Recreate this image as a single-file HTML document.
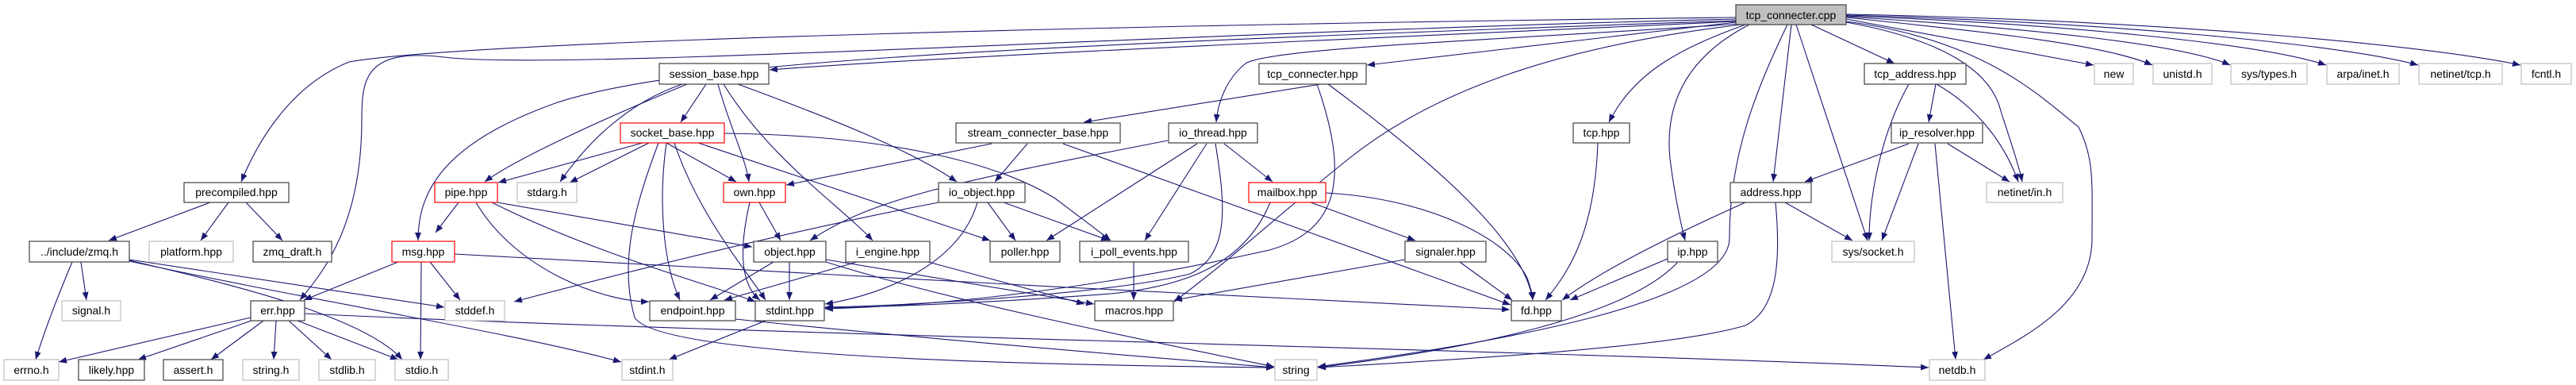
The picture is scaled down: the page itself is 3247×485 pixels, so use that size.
<!DOCTYPE html>
<html><head><meta charset="utf-8"><style>
html,body{margin:0;padding:0;background:#fff;}
svg{display:block;}
text{font-family:"Liberation Sans",sans-serif;font-size:14px;fill:#000;text-anchor:middle;}
.n rect{fill:#fff;stroke:#404040;stroke-width:1.2;}
.g rect{fill:#fff;stroke:#bfbfbf;stroke-width:1.2;}
.r rect{fill:#fff;stroke:#ff0000;stroke-width:1.2;}
.e{fill:none;stroke:#191970;stroke-width:1.1;marker-end:url(#a);}
</style></head><body>
<svg width="3247" height="485" viewBox="0 0 3247 485" xmlns="http://www.w3.org/2000/svg">
<defs><marker id="a" markerUnits="userSpaceOnUse" markerWidth="11" markerHeight="8" refX="10" refY="4" orient="auto"><path d="M0,0 L10,4 L0,8 z" fill="#191970"/></marker></defs>
<g>
<!-- from tcp_connecter.cpp -->
<path class="e" d="M2188,22 C1500,30 600,50 440,78 C360,110 320,190 304,229"/>
<path class="e" d="M2188,24 C1500,40 700,90 560,72 C460,60 456,100 456,150 C456,280 410,340 378,378"/>
<path class="e" d="M2188,27 C1800,45 1200,70 970,88"/>
<path class="e" d="M2188,26 C1200,60 850,80 700,130 C560,180 527,240 527,303"/>
<path class="e" d="M2188,28 L1723,82"/>
<path class="e" d="M2192,30 C1900,50 1600,60 1570,80 C1545,100 1535,130 1533,154"/>
<path class="e" d="M2195,31 C1950,60 1800,120 1700,200 C1600,280 1560,320 1480,380"/>
<path class="e" d="M2200,31 C2120,60 2060,90 2028,154"/>
<path class="e" d="M2205,31 C2110,80 2100,150 2105,200 C2110,240 2118,280 2124,303"/>
<path class="e" d="M2253,31 C2210,120 2180,200 2180,300 C2180,380 1900,430 1661,462"/>
<path class="e" d="M2258,31 L2235,229"/>
<path class="e" d="M2264,31 L2354,303"/>
<path class="e" d="M2283,31 L2388,80"/>
<path class="e" d="M2327,28 C2450,50 2510,90 2522,140 C2535,180 2545,210 2549,229"/>
<path class="e" d="M2327,27 C2500,50 2570,120 2620,160 C2640,200 2637,230 2637,300 C2637,380 2560,420 2500,453"/>
<path class="e" d="M2327,24 L2639,82"/>
<path class="e" d="M2327,22 C2500,40 2650,55 2713,82"/>
<path class="e" d="M2327,21 C2550,35 2750,55 2811,82"/>
<path class="e" d="M2327,20 C2600,30 2850,55 2932,82"/>
<path class="e" d="M2327,19 C2650,28 2950,55 3048,82"/>
<path class="e" d="M2327,18 C2700,25 3050,55 3177,82"/>
<!-- session_base -->
<path class="e" d="M890,106 L858,154"/>
<path class="e" d="M905,106 C920,160 940,200 944,229"/>
<path class="e" d="M912,106 C970,200 1060,260 1100,303"/>
<path class="e" d="M930,106 C1050,150 1150,190 1206,229"/>
<path class="e" d="M866,106 C760,150 650,200 611,229"/>
<path class="e" d="M860,106 C790,130 740,180 706,229"/>
<!-- socket_base -->
<path class="e" d="M810,180 L628,230"/>
<path class="e" d="M818,180 L718,230"/>
<path class="e" d="M840,180 L928,229"/>
<path class="e" d="M880,180 L1248,303"/>
<path class="e" d="M913,168 C1100,170 1250,200 1330,250 C1370,280 1390,295 1400,303"/>
<path class="e" d="M840,180 C830,250 835,330 857,378"/>
<path class="e" d="M850,180 C880,270 940,340 965,378"/>
<path class="e" d="M830,180 C800,260 780,330 800,400 C830,450 1300,460 1606,463"/>
<!-- pipe -->
<path class="e" d="M578,255 L549,293"/>
<path class="e" d="M627,255 L948,311"/>
<path class="e" d="M620,255 C750,320 900,360 952,380"/>
<path class="e" d="M600,255 C650,340 760,380 818,380"/>
<!-- msg -->
<path class="e" d="M502,330 L383,378"/>
<path class="e" d="M531,330 L530,453"/>
<path class="e" d="M542,330 L580,378"/>
<path class="e" d="M573,320 C900,340 1500,370 1903,390"/>
<!-- zmq.h -->
<path class="e" d="M91,330 C70,380 55,420 45,453"/>
<path class="e" d="M102,330 L109,378"/>
<path class="e" d="M163,327 L560,387"/>
<path class="e" d="M163,328 C300,360 460,400 507,453"/>
<path class="e" d="M163,329 C400,380 650,420 783,456"/>
<!-- precompiled -->
<path class="e" d="M265,255 L137,303"/>
<path class="e" d="M288,255 L253,303"/>
<path class="e" d="M310,255 L356,303"/>
<!-- err -->
<path class="e" d="M316,400 L74,456"/>
<path class="e" d="M320,403 L174,453"/>
<path class="e" d="M332,404 L266,453"/>
<path class="e" d="M348,404 L345,453"/>
<path class="e" d="M364,404 L418,453"/>
<path class="e" d="M375,404 L502,453"/>
<path class="e" d="M384,395 C900,420 1900,440 2431,463"/>
<!-- own -->
<path class="e" d="M957,255 L984,303"/>
<path class="e" d="M945,255 C930,320 935,360 958,378"/>
<!-- stream_connecter_base -->
<path class="e" d="M1250,181 L991,233"/>
<path class="e" d="M1295,181 L1254,229"/>
<path class="e" d="M1340,181 L1904,384"/>
<!-- io_thread -->
<path class="e" d="M1472,177 C1200,230 1100,250 1021,303"/>
<path class="e" d="M1509,181 L1319,303"/>
<path class="e" d="M1521,181 L1443,303"/>
<path class="e" d="M1543,181 L1604,229"/>
<path class="e" d="M1532,181 C1545,260 1550,320 1500,345 C1400,370 1150,385 1040,387"/>
<!-- io_object -->
<path class="e" d="M1245,255 L1280,303"/>
<path class="e" d="M1265,255 L1398,303"/>
<path class="e" d="M1232,255 C1210,330 1120,370 1040,383"/>
<path class="e" d="M1183,255 C1000,290 800,340 648,380"/>
<!-- object -->
<path class="e" d="M975,330 L895,378"/>
<path class="e" d="M995,330 L995,378"/>
<path class="e" d="M1041,327 L1379,383"/>
<path class="e" d="M1041,330 C1200,380 1450,430 1606,462"/>
<!-- i_engine -->
<path class="e" d="M1080,330 L913,378"/>
<path class="e" d="M1170,330 L1367,383"/>
<path class="e" d="M1429,330 L1429,378"/>
<path class="e" d="M927,402 C1200,430 1450,450 1606,463"/>
<path class="e" d="M965,404 L843,453"/>
<!-- mailbox -->
<path class="e" d="M1652,255 L1784,303"/>
<path class="e" d="M1671,243 C1800,250 1900,300 1925,350 C1930,365 1932,372 1932,378"/>
<path class="e" d="M1601,255 C1570,330 1500,360 1400,370 C1200,385 1080,387 1040,388"/>
<!-- tcp_connecter.hpp -->
<path class="e" d="M1665,106 L1366,154"/>
<path class="e" d="M1674,106 C1800,200 1920,300 1932,378"/>
<path class="e" d="M1660,106 C1700,220 1690,290 1600,315 C1400,360 1200,385 1040,389"/>
<!-- signaler -->
<path class="e" d="M1840,330 L1906,378"/>
<path class="e" d="M1771,327 L1480,378"/>
<path class="e" d="M2014,180 C2010,290 1980,340 1948,378"/>
<path class="e" d="M2102,326 L1979,378"/>
<path class="e" d="M2115,330 C2050,400 1850,440 1661,463"/>
<path class="e" d="M2200,255 C2100,300 2020,340 1969,378"/>
<path class="e" d="M2250,255 L2335,303"/>
<path class="e" d="M2238,255 C2245,330 2240,390 2200,410 C2100,440 1800,455 1661,463"/>
<!-- tcp_address -->
<path class="e" d="M2440,106 L2431,154"/>
<path class="e" d="M2406,106 C2370,170 2356,250 2356,303"/>
<path class="e" d="M2441,106 C2500,140 2530,190 2544,229"/>
<!-- ip_resolver -->
<path class="e" d="M2406,181 L2275,229"/>
<path class="e" d="M2418,181 L2372,303"/>
<path class="e" d="M2455,181 L2533,229"/>
<path class="e" d="M2439,181 L2465,453"/>
</g>
<!-- nodes -->
<g class="n" transform="translate(2188,6)"><rect x="0" y="0" width="139" height="25" style="fill:#bfbfbf"/><text x="69.5" y="18">tcp_connecter.cpp</text></g>
<g class="n"><rect x="831" y="80" width="138" height="26"/><text x="900" y="98">session_base.hpp</text></g>
<g class="n"><rect x="1587" y="80" width="135" height="26"/><text x="1654.5" y="98">tcp_connecter.hpp</text></g>
<g class="n"><rect x="2350" y="80" width="128" height="26"/><text x="2414" y="98">tcp_address.hpp</text></g>
<g class="g"><rect x="2640" y="80" width="49" height="26"/><text x="2664.5" y="98">new</text></g>
<g class="g"><rect x="2714" y="80" width="74" height="26"/><text x="2751" y="98">unistd.h</text></g>
<g class="g"><rect x="2812" y="80" width="96" height="26"/><text x="2860" y="98">sys/types.h</text></g>
<g class="g"><rect x="2933" y="80" width="91" height="26"/><text x="2978.5" y="98">arpa/inet.h</text></g>
<g class="g"><rect x="3049" y="80" width="105" height="26"/><text x="3101.5" y="98">netinet/tcp.h</text></g>
<g class="g"><rect x="3178" y="80" width="63" height="26"/><text x="3209.5" y="98">fcntl.h</text></g>
<g class="r"><rect x="782" y="155" width="131" height="25"/><text x="847.5" y="172">socket_base.hpp</text></g>
<g class="n"><rect x="1205" y="155" width="207" height="25"/><text x="1308.5" y="172">stream_connecter_base.hpp</text></g>
<g class="n"><rect x="1473" y="155" width="112" height="25"/><text x="1529" y="172">io_thread.hpp</text></g>
<g class="n"><rect x="1983" y="155" width="71" height="25"/><text x="2018.5" y="172">tcp.hpp</text></g>
<g class="n"><rect x="2384" y="155" width="115" height="25"/><text x="2441.5" y="172">ip_resolver.hpp</text></g>
<g class="n"><rect x="232" y="230" width="132" height="25"/><text x="298" y="247">precompiled.hpp</text></g>
<g class="r"><rect x="548" y="230" width="79" height="25"/><text x="587.5" y="247">pipe.hpp</text></g>
<g class="g"><rect x="652" y="230" width="75" height="25"/><text x="689.5" y="247">stdarg.h</text></g>
<g class="r"><rect x="912" y="230" width="78" height="25"/><text x="951" y="247">own.hpp</text></g>
<g class="n"><rect x="1183" y="230" width="109" height="25"/><text x="1237.5" y="247">io_object.hpp</text></g>
<g class="r"><rect x="1574" y="230" width="97" height="25"/><text x="1622.5" y="247">mailbox.hpp</text></g>
<g class="n"><rect x="2181" y="230" width="102" height="25"/><text x="2232" y="247">address.hpp</text></g>
<g class="g"><rect x="2504" y="230" width="96" height="25"/><text x="2552" y="247">netinet/in.h</text></g>
<g class="n"><rect x="37" y="304" width="126" height="26"/><text x="100" y="322">../include/zmq.h</text></g>
<g class="g"><rect x="188" y="304" width="106" height="26"/><text x="241" y="322">platform.hpp</text></g>
<g class="n"><rect x="319" y="304" width="99" height="26"/><text x="368.5" y="322">zmq_draft.h</text></g>
<g class="r"><rect x="494" y="304" width="79" height="26"/><text x="533.5" y="322">msg.hpp</text></g>
<g class="n"><rect x="950" y="304" width="91" height="26"/><text x="995.5" y="322">object.hpp</text></g>
<g class="n"><rect x="1066" y="304" width="106" height="26"/><text x="1119" y="322">i_engine.hpp</text></g>
<g class="n"><rect x="1248" y="304" width="88" height="26"/><text x="1292" y="322">poller.hpp</text></g>
<g class="n"><rect x="1361" y="304" width="137" height="26"/><text x="1429.5" y="322">i_poll_events.hpp</text></g>
<g class="n"><rect x="1771" y="304" width="102" height="26"/><text x="1822" y="322">signaler.hpp</text></g>
<g class="n"><rect x="2102" y="304" width="63" height="26"/><text x="2133.5" y="322">ip.hpp</text></g>
<g class="g"><rect x="2309" y="304" width="104" height="26"/><text x="2361" y="322">sys/socket.h</text></g>
<g class="g"><rect x="78" y="379" width="74" height="25"/><text x="115" y="396">signal.h</text></g>
<g class="n"><rect x="316" y="379" width="68" height="25"/><text x="350" y="396">err.hpp</text></g>
<g class="g"><rect x="561" y="379" width="75" height="25"/><text x="598.5" y="396">stddef.h</text></g>
<g class="n"><rect x="819" y="379" width="108" height="25"/><text x="873" y="396">endpoint.hpp</text></g>
<g class="n"><rect x="952" y="379" width="87" height="25"/><text x="995.5" y="396">stdint.hpp</text></g>
<g class="n"><rect x="1380" y="379" width="99" height="25"/><text x="1429.5" y="396">macros.hpp</text></g>
<g class="n"><rect x="1905" y="379" width="63" height="25"/><text x="1936.5" y="396">fd.hpp</text></g>
<g class="g"><rect x="5" y="453" width="69" height="26"/><text x="39.5" y="471">errno.h</text></g>
<g class="n"><rect x="99" y="453" width="83" height="26"/><text x="140.5" y="471">likely.hpp</text></g>
<g class="n"><rect x="206" y="453" width="75" height="26"/><text x="243.5" y="471">assert.h</text></g>
<g class="g"><rect x="306" y="453" width="71" height="26"/><text x="341.5" y="471">string.h</text></g>
<g class="g"><rect x="402" y="453" width="71" height="26"/><text x="437.5" y="471">stdlib.h</text></g>
<g class="g"><rect x="498" y="453" width="67" height="26"/><text x="531.5" y="471">stdio.h</text></g>
<g class="g"><rect x="784" y="453" width="64" height="26"/><text x="816" y="471">stdint.h</text></g>
<g class="g"><rect x="1607" y="453" width="53" height="26"/><text x="1633.5" y="471">string</text></g>
<g class="g"><rect x="2432" y="453" width="70" height="26"/><text x="2467" y="471">netdb.h</text></g>
</svg>
</body></html>
